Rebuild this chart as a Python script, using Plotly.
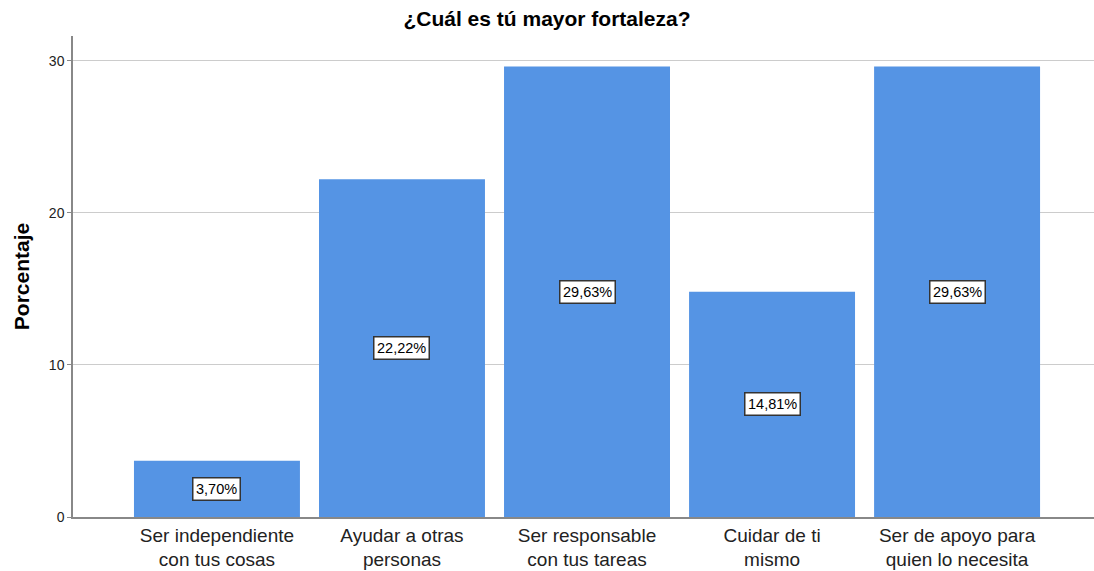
import plotly.graph_objects as go

categories = ["Ser independiente<br>con tus cosas", "Ayudar a otras<br>personas",
              "Ser responsable<br>con tus tareas", "Cuidar de ti<br>mismo",
              "Ser de apoyo para<br>quien lo necesita"]
values = [3.70, 22.22, 29.63, 14.81, 29.63]
labels = ["3,70%", "22,22%", "29,63%", "14,81%", "29,63%"]
yticks = [0, 10, 20, 30]

FONT = "Liberation Sans, Arial, sans-serif"
xs = list(range(len(categories)))

fig = go.Figure()
fig.add_trace(go.Bar(x=xs, y=values, width=0.897,
                     marker=dict(color="#5594E4", line=dict(width=0)),
                     hoverinfo="skip"))

for x, v, t in zip(xs, values, labels):
    fig.add_annotation(x=x, y=v / 2, text=t, showarrow=False,
                       font=dict(family=FONT, size=14.5, color="black"),
                       bgcolor="white", bordercolor="#333333", borderwidth=1.5,
                       borderpad=2.5)

fig.update_layout(
    width=1094, height=571,
    margin=dict(l=73, r=0, t=36, b=54),
    plot_bgcolor="white", paper_bgcolor="white",
    showlegend=False,
    title=dict(text="<b>¿Cuál es tú mayor fortaleza?</b>", x=0.5, xanchor="center",
               y=0.968, yanchor="middle",
               font=dict(family=FONT, size=21, color="black")),
    font=dict(family=FONT, color="black"),
)
fig.update_xaxes(range=[-0.778, 4.74], tickmode="array", tickvals=xs, ticktext=categories,
                 tickfont=dict(family=FONT, size=19, color="#222222"),
                 showline=True, linecolor="#888888", linewidth=1.5, automargin=False,
                 showgrid=False, ticks="", zeroline=False)
fig.update_yaxes(range=[0, 31.64], tickmode="array", tickvals=yticks,
                 ticktext=[str(t) for t in yticks],
                 tickfont=dict(family=FONT, size=14, color="#222222"),
                 title=dict(text="<b>Porcentaje</b>", standoff=14,
                            font=dict(family=FONT, size=21, color="black")),
                 showline=True, linecolor="#888888", linewidth=1.5, automargin=False,
                 showgrid=True, gridcolor="#cccccc", gridwidth=1,
                 zeroline=False, ticks="outside", ticklen=4, tickcolor="#888888")

fig.write_html("out.html", config={"displayModeBar": False},
               post_script="document.body.style.margin='0';document.body.style.overflow='hidden';")
